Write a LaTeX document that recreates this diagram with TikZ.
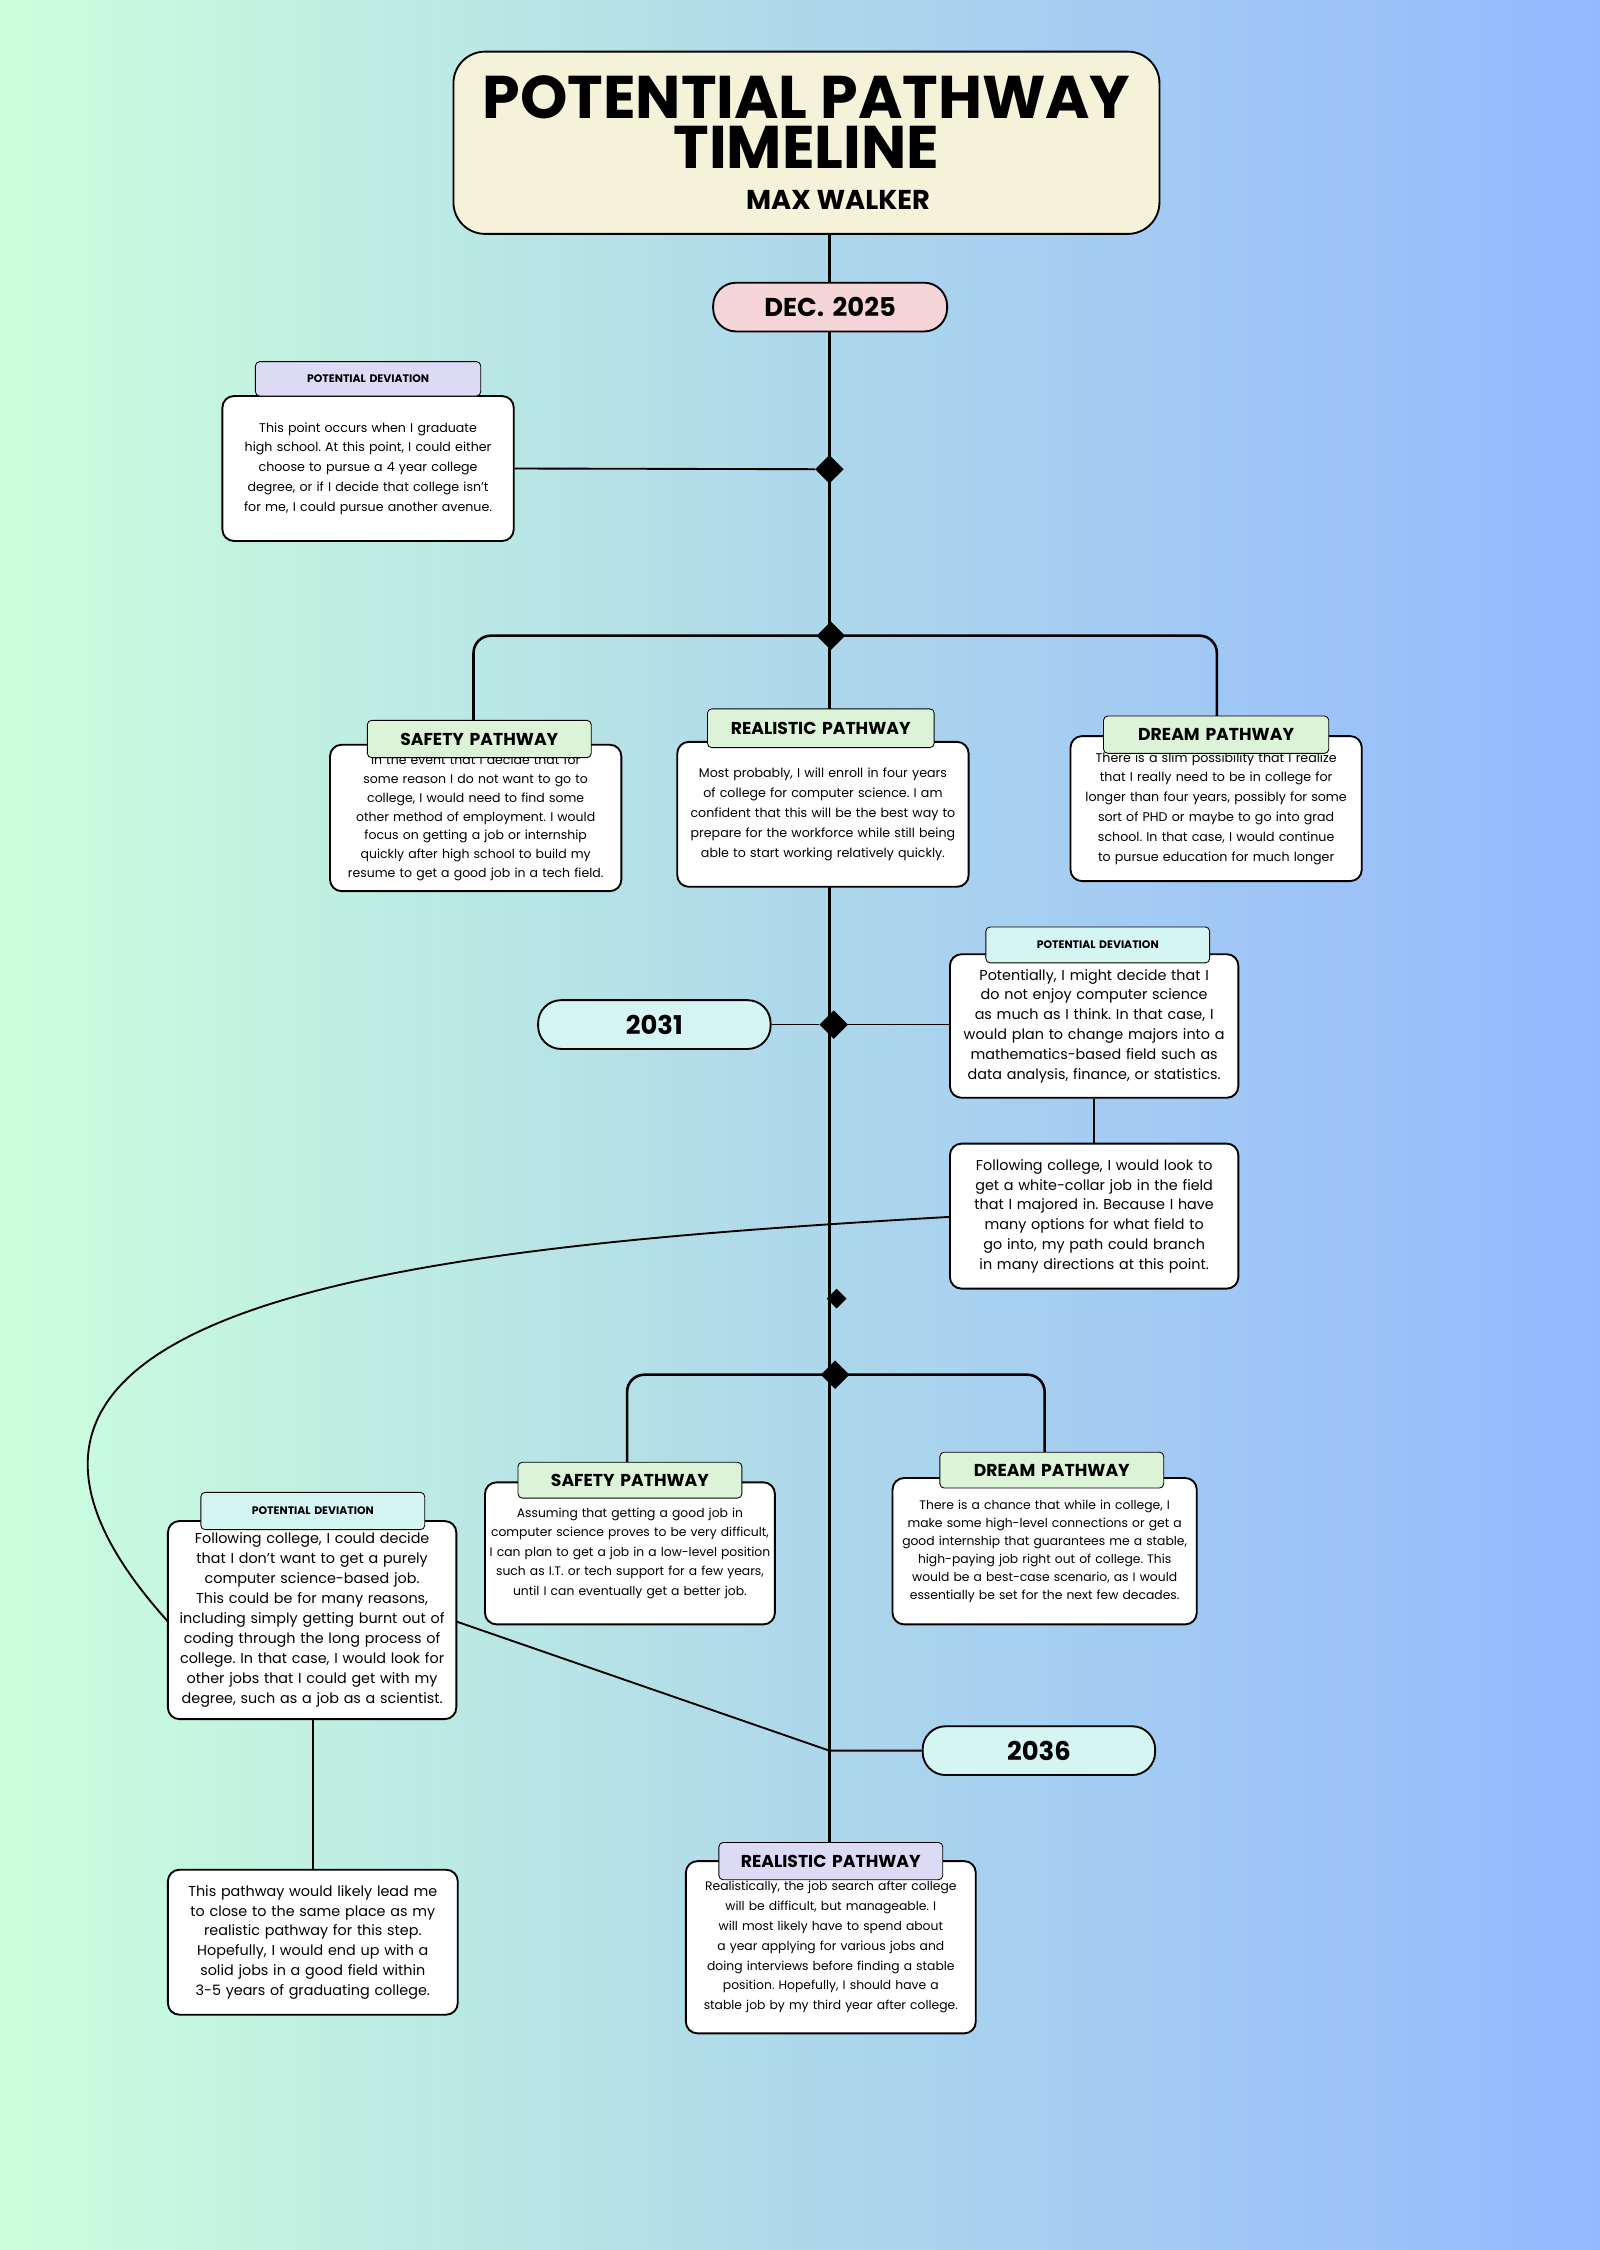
\documentclass[tikz,border=0pt]{standalone}
\usepackage{fontspec}
\setmainfont{Poppins}
\usetikzlibrary{shapes.geometric}
\hyphenpenalty=10000 \exhyphenpenalty=10000 \lefthyphenmin=64 \righthyphenmin=64
\definecolor{bgL}{HTML}{CCFFDC}
\definecolor{bgM}{HTML}{AED8EA}
\definecolor{bgR}{HTML}{94B9FF}
\definecolor{cream}{HTML}{F5F2DA}
\definecolor{pink}{HTML}{F6D5D8}
\definecolor{lav}{HTML}{DCDAF5}
\definecolor{grn}{HTML}{DCF3D8}
\definecolor{cyn}{HTML}{D5F5F3}
\tikzset{
 box/.style={draw=black,line width=1.3pt,fill=white,rounded corners=8pt,align=center,inner sep=2pt},
 tag/.style={draw=black,line width=0.6pt,rounded corners=3pt,align=center,inner sep=0pt,font=\bfseries},
 pill/.style={draw=black,line width=1.3pt,rounded corners=16pt,align=center,inner sep=0pt,font=\fontsize{18}{20}\selectfont\bfseries},
 ln/.style={line width=1.8pt},
 dia/.style={diamond,fill=black,inner sep=0pt,minimum size=20pt}
}
\newcommand{\bx}[8]{\node[#1,minimum width=#4-#2,minimum height=#5-#3,text width=#4-#2-6,#6] (#7) at ({(#2+#4)/2},{(#3+#5)/2}) {\lefthyphenmin=64 \righthyphenmin=64 \hyphenpenalty=10000\exhyphenpenalty=10000\frenchspacing #8};}
\begin{document}
\begin{tikzpicture}[x=1pt,y=-1pt]
\shade[left color=bgL,right color=bgR,middle color=bgM] (0,0) rectangle (1115,1568);
\useasboundingbox (0,0) rectangle (1115,1568);
% main line
\draw[ln] (578,163) -- (578,1298);
% title
\node[box,rounded corners=22pt,fill=cream,minimum width=492,minimum height=127] (title) at (562,99.5) {};
\node[font=\fontsize{42}{34}\selectfont\bfseries,inner sep=0pt] (t1) at (562,68) {POTENTIAL PATHWAY};
\node[font=\fontsize{42}{34}\selectfont\bfseries,inner sep=0pt] (t1b) at (562,103) {TIMELINE};
\node[font=\fontsize{19}{20}\selectfont\bfseries,inner sep=0pt] (t2) at (584,139) {MAX WALKER};
\bx{pill,fill=pink}{497}{197}{660}{231}{}{dec}{DEC. 2025}
% first deviation
\node[dia] (d1) at (578,327) {};
\bx{box}{155}{276}{358}{377}{font=\fontsize{8.8}{13.8}\selectfont}{b1}{This point occurs when I graduate high school. At this point, I could either choose to pursue a 4 year college degree, or if I decide that college isn't for me, I could pursue another avenue.}
\bx{tag,fill=lav}{178}{252}{335}{276}{font=\fontsize{7.6}{8}\selectfont\bfseries}{g1}{POTENTIAL DEVIATION}
\draw[ln,line width=1.3pt] (b1.east) -- (d1);
% branch 1
\node[dia] (d2) at (579,443) {};
\draw[ln,rounded corners=12pt] (330,502) -- (330,443) -- (848,443) -- (848,500);
\bx{box}{230}{519}{433}{621}{font=\fontsize{8.7}{13.2}\selectfont}{b2}{In the event that I decide that for some reason I do not want to go to college, I would need to find some other method of employment. I would focus on getting a job or internship quickly after high school to build my resume to get a good job in a tech field.}
\bx{tag,fill=grn}{256}{502}{412}{528}{font=\fontsize{12}{12}\selectfont\bfseries}{g2}{SAFETY PATHWAY}
\bx{box}{472}{517}{675}{618}{font=\fontsize{8.8}{13.8}\selectfont}{b3}{Most probably, I will enroll in four years of college for computer science. I am confident that this will be the best way to prepare for the workforce while still being able to start working relatively quickly.}
\bx{tag,fill=grn}{493}{494}{651}{521}{font=\fontsize{12}{12}\selectfont\bfseries}{g3}{REALISTIC PATHWAY}
\bx{box}{746}{513}{949}{614}{font=\fontsize{8.8}{13.8}\selectfont}{b4}{There is a slim possibility that I realize that I really need to be in college for longer than four years, possibly for some sort of PHD or maybe to go into grad school. In that case, I would continue to pursue education for much longer}
\bx{tag,fill=grn}{769}{499}{926}{525}{font=\fontsize{12}{12}\selectfont\bfseries}{g4}{DREAM PATHWAY}
% 2031
\node[dia] (d3) at (581,714) {};
\bx{pill,fill=cyn}{375}{697}{537}{731}{}{y31}{2031}
\bx{box}{662}{665}{863}{765}{font=\fontsize{10}{13.8}\selectfont}{b5}{Potentially, I might decide that I do not enjoy computer science as much as I think. In that case, I would plan to change majors into a mathematics-based field such as data analysis, finance, or statistics.}
\bx{tag,fill=cyn}{687}{646}{843}{671}{font=\fontsize{7.6}{8}\selectfont\bfseries}{g5}{POTENTIAL DEVIATION}
\draw[line width=1.3pt] (y31.east) -- (d3) -- (b5.west |- d3);
\bx{box}{662}{797}{863}{898}{font=\fontsize{10}{13.8}\selectfont}{b6}{Following college, I would look to get a white-collar job in the field that I majored in. Because I have many options for what field to go into, my path could branch in many directions at this point.}
\draw[line width=1.3pt] (b5.south) -- (b6.north);
\node[dia,minimum size=14pt] (d4) at (583,905) {};
% branch 2
\node[dia] (d5) at (582,958) {};
\draw[ln,rounded corners=12pt] (437,1019) -- (437,958) -- (728,958) -- (728,1012);
\bx{box}{338}{1033}{540}{1132}{font=\fontsize{8.6}{13.6}\selectfont}{b7}{Assuming that getting a good job in computer science proves to be very difficult, I can plan to get a job in a low-level position such as I.T. or tech support for a few years, until I can eventually get a better job.}
\bx{tag,fill=grn}{361}{1019}{517}{1044}{font=\fontsize{12}{12}\selectfont\bfseries}{g7}{SAFETY PATHWAY}
\bx{box}{622}{1030}{834}{1132}{font=\fontsize{8.6}{12.6}\selectfont}{b8}{There is a chance that while in college, I make some high-level connections or get a good internship that guarantees me a stable, high-paying job right out of college. This would be a best-case scenario, as I would essentially be set for the next few decades.}
\bx{tag,fill=grn}{655}{1012}{811}{1037}{font=\fontsize{12}{12}\selectfont\bfseries}{g8}{DREAM PATHWAY}
\bx{box}{117}{1060}{318}{1198}{font=\fontsize{10}{14}\selectfont}{b9}{Following college, I could decide that I don't want to get a purely computer science-based job. This could be for many reasons, including simply getting burnt out of coding through the long process of college. In that case, I would look for other jobs that I could get with my degree, such as a job as a scientist.}
\bx{tag,fill=cyn}{140}{1040}{296}{1066}{font=\fontsize{7.6}{8}\selectfont\bfseries}{g9}{POTENTIAL DEVIATION}
\draw[line width=1.3pt] (662,848) .. controls (320,868) and (-90,900) .. (117,1130);
% 2036
\bx{pill,fill=cyn}{643}{1203}{805}{1237}{}{y36}{2036}
\coordinate (j36) at (578,1220);
\draw[line width=1.3pt] (318,1130) -- (j36) -- (y36.west);
\bx{box}{117}{1303}{319}{1404}{font=\fontsize{10}{13.8}\selectfont}{b10}{This pathway would likely lead me to close to the same place as my realistic pathway for this step. Hopefully, I would end up with a solid jobs in a good field within 3-5 years of graduating college.}
\draw[line width=1.3pt] (218,1198) -- (b10.north);
\bx{box}{478}{1297}{680}{1417}{font=\fontsize{8.6}{13.8}\selectfont}{b11}{Realistically, the job search after college will be difficult, but manageable. I will most likely have to spend about a year applying for various jobs and doing interviews before finding a stable position. Hopefully, I should have a stable job by my third year after college.}
\bx{tag,fill=lav}{501}{1284}{657}{1310}{font=\fontsize{12}{12}\selectfont\bfseries}{g11}{REALISTIC PATHWAY}
\end{tikzpicture}
\end{document}
